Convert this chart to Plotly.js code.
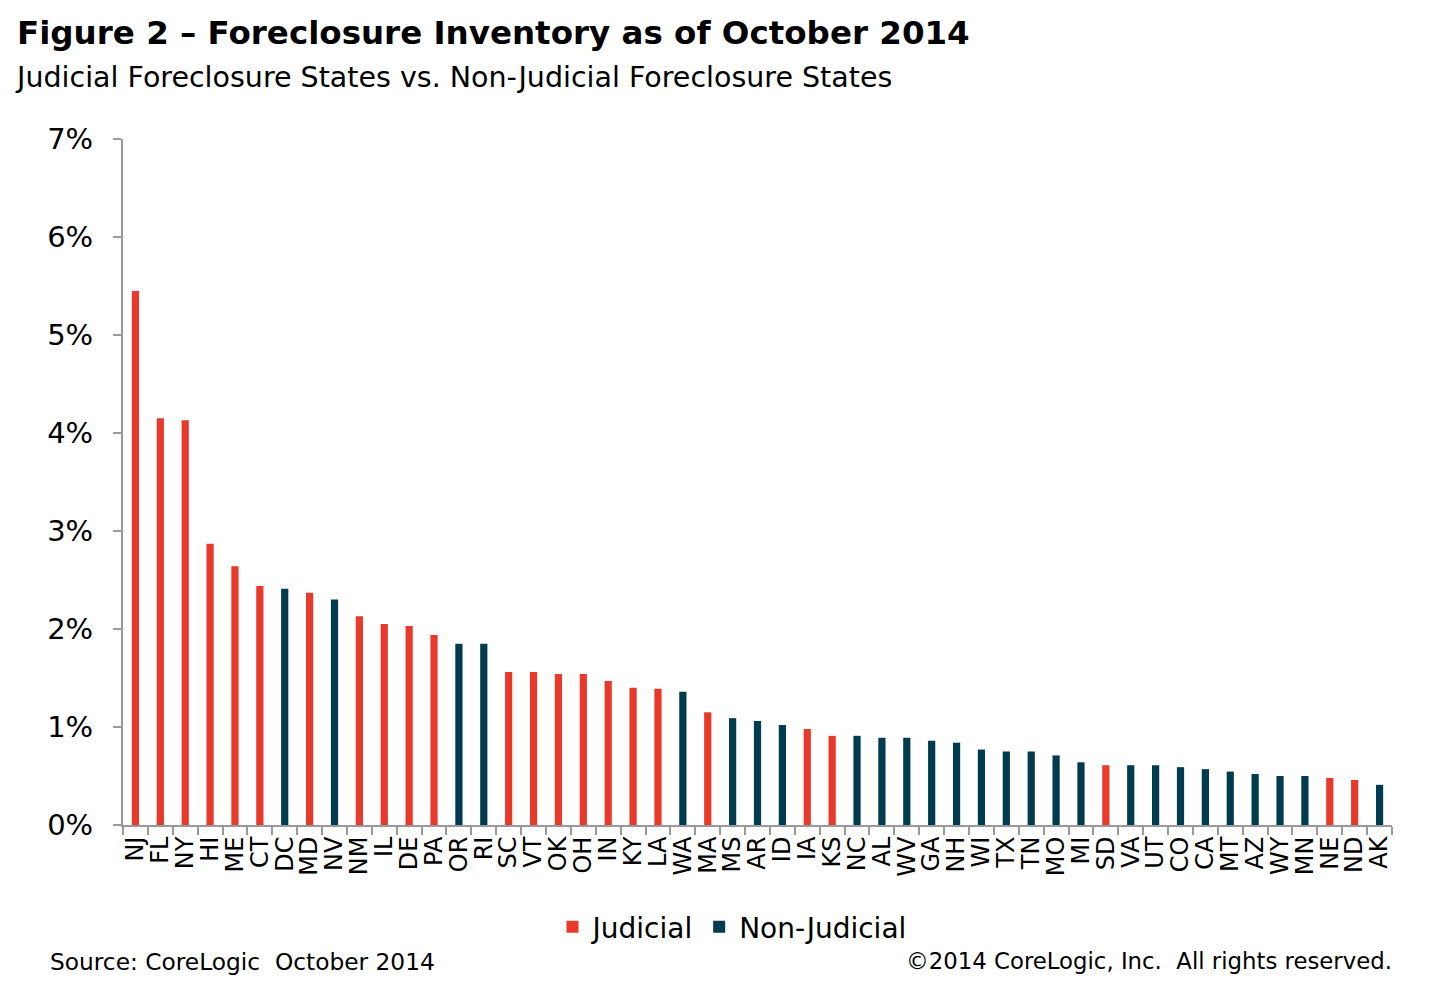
<!DOCTYPE html>
<html>
<head>
<meta charset="utf-8">
<script src="https://cdn.plot.ly/plotly-3.0.1.min.js"></script>
<style>html,body{margin:0;padding:0;background:#fff;} #chart{width:1438px;height:987px;}</style>
</head>
<body>
<div id="chart"></div>
<script>
const states = ["NJ","FL","NY","HI","ME","CT","DC","MD","NV","NM","IL","DE","PA","OR","RI","SC","VT","OK","OH","IN","KY","LA","WA","MA","MS","AR","ID","IA","KS","NC","AL","WV","GA","NH","WI","TX","TN","MO","MI","SD","VA","UT","CO","CA","MT","AZ","WY","MN","NE","ND","AK"];
const inventory = [5.45,4.15,4.13,2.87,2.64,2.44,2.41,2.37,2.30,2.13,2.05,2.03,1.94,1.85,1.85,1.56,1.56,1.54,1.54,1.47,1.40,1.39,1.36,1.15,1.09,1.06,1.02,0.98,0.91,0.91,0.89,0.89,0.86,0.84,0.77,0.75,0.75,0.71,0.64,0.61,0.61,0.61,0.59,0.57,0.545,0.52,0.50,0.50,0.48,0.46,0.41];
const stateType = ["J","J","J","J","J","J","N","J","N","J","J","J","J","N","N","J","J","J","J","J","J","J","N","J","N","N","N","J","J","N","N","N","N","N","N","N","N","N","N","J","N","N","N","N","N","N","N","N","J","J","N"];
const yTickVals = [0,1,2,3,4,5,6,7];
const yTickText = ["0%","1%","2%","3%","4%","5%","6%","7%"];

const RED = "#E8392A", TEAL = "#003B4F";
function pick(t){
  const x=[], y=[];
  states.forEach((s,i)=>{ if(stateType[i]===t){ x.push(s); y.push(inventory[i]); } });
  return {x, y};
}
const j = pick("J"), n = pick("N");
const font = "DejaVu Sans, Liberation Sans, Arial, sans-serif";
const data = [
  {type:"bar", name:"Judicial", x:j.x, y:j.y, marker:{color:RED}, hoverinfo:"x+y"},
  {type:"bar", name:"Non-Judicial", x:n.x, y:n.y, marker:{color:TEAL}, hoverinfo:"x+y"}
];
const pw = 1438-123-46, ph = 987-139-162;
function px(x){ return (x-123)/pw; }
function py(y){ return (987-162-y)/ph; }
const layout = {
  width:1438, height:987,
  margin:{l:123, r:46, t:139, b:162},
  paper_bgcolor:"#fff", plot_bgcolor:"#fff",
  barmode:"overlay", bargap:0.71,
  font:{family:font, color:"#000"},
  showlegend:true,
  legend:{orientation:"h", x:px(732), xanchor:"center", y:py(927), yanchor:"middle",
          font:{size:28, family:font}, traceorder:"normal"},
  xaxis:{type:"category", categoryorder:"array", categoryarray:states,
         tickmode:"array", tickvals:states, ticktext:states,
         tickson:"boundaries", ticks:"outside", ticklen:8, tickwidth:2, tickcolor:"#999",
         showline:true, linecolor:"#999", linewidth:2, showgrid:false, zeroline:false,
         tickangle:-90, tickfont:{size:24, family:font, color:"#000"}, automargin:false},
  yaxis:{range:[0,7], tickvals:yTickVals, ticktext:yTickText,
         ticks:"outside", ticklen:8, tickwidth:2, tickcolor:"#999",
         showline:true, linecolor:"#999", linewidth:2, showgrid:false, zeroline:false,
         tickfont:{size:29, family:font, color:"#000"}, ticklabelstandoff:14, automargin:false},
  annotations:[
    {text:"<b>Figure 2 – Foreclosure Inventory as of October 2014</b>", xref:"paper", yref:"paper",
     x:px(15), y:py(33), xanchor:"left", yanchor:"middle", showarrow:false, font:{size:32.5, family:font}},
    {text:"Judicial Foreclosure States vs. Non-Judicial Foreclosure States", xref:"paper", yref:"paper",
     x:px(13), y:py(77), xanchor:"left", yanchor:"middle", showarrow:false, font:{size:28.5, family:font}},
    {text:"Source: CoreLogic  October 2014", xref:"paper", yref:"paper", x:px(48), y:py(961),
     xanchor:"left", yanchor:"middle", showarrow:false, font:{size:23.3, family:font}},
    {text:"©2014 CoreLogic, Inc.  All rights reserved.", xref:"paper", yref:"paper", x:px(1394), y:py(961),
     xanchor:"right", yanchor:"middle", showarrow:false, font:{size:22.8, family:font}}
  ]
};
Plotly.newPlot("chart", data, layout, {displayModeBar:false, staticPlot:true});
</script>
</body>
</html>
